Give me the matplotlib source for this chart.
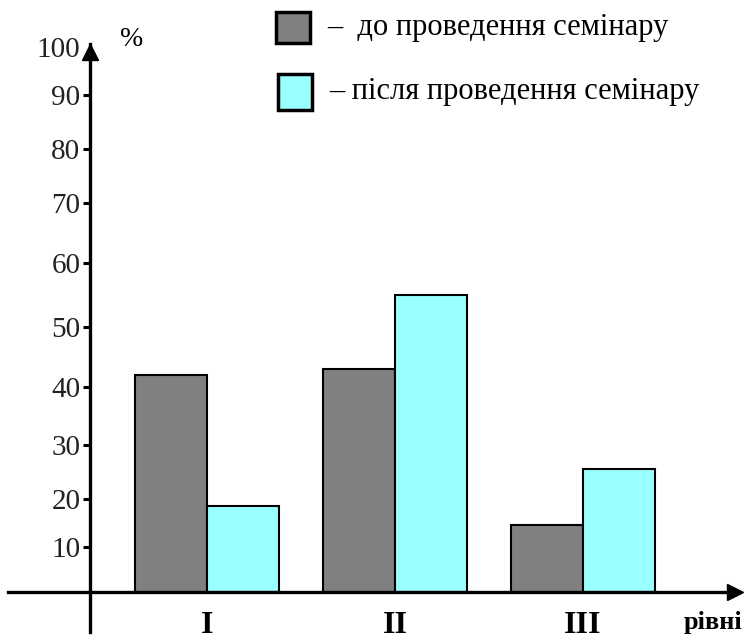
import numpy as np
import matplotlib
matplotlib.use("Agg")
import matplotlib.pyplot as plt
from matplotlib.patches import Rectangle

# дані з діаграми
levels = ["I", "II", "III"]
before = [42, 43, 14.5]   # до проведення семінару
after = [18.5, 55, 25.5]  # після проведення семінару
yticks = [0, 10, 20, 30, 40, 50, 60, 70, 80, 90, 100]

# вісь у на оригіналі намальована нерівномірно - відтворюємо через FuncScale
tick_px = [0, 45, 93, 147, 205, 265, 329, 389, 443, 497, 545]
src = [-100] + yticks + [200]
dst = [-545] + tick_px + [1090]


def fwd(v):
    return np.interp(v, src, dst)


def inv(v):
    return np.interp(v, dst, src)


plt.rcParams['font.family'] = ['Liberation Serif', 'DejaVu Serif']

fig = plt.figure(figsize=(7.47, 6.43), dpi=100)
ax = fig.add_axes([0, 0, 1, 1])
ax.set_yscale('function', functions=(fwd, inv))

x = np.arange(len(levels))
w = 0.383
ax.bar(x - w / 2, before, w, color='#808080', edgecolor='black', lw=1.5)
ax.bar(x + w / 2, after, w, color='#99ffff', edgecolor='black', lw=1.5)

# межі осей так, щоб початок координат був у (90, 592) px
ax.set_xlim((0 - 207) / 188, (747 - 207) / 188)
ax.set_ylim(inv(-51), inv(592))
x0 = (90 - 207) / 188

ax.spines['top'].set_visible(False)
ax.spines['right'].set_visible(False)
ax.spines['left'].set_position(('data', x0))
ax.spines['bottom'].set_position(('data', 0))
ax.spines['left'].set_linewidth(2.4)
ax.spines['bottom'].set_linewidth(2.4)
ax.spines['left'].set_bounds(inv(-40), inv(548))
ax.spines['bottom'].set_bounds((8 - 207) / 188, (735 - 207) / 188)

# стрілки на кінцях осей
ax.plot([x0], [inv(540)], marker='^', ms=11, color='black', clip_on=False)
ax.plot([(735 - 207) / 188], [0], marker='>', ms=11, color='black', clip_on=False)

ax.set_yticks(yticks[1:])
ax.set_yticklabels([str(t) for t in yticks[1:]], fontsize=21, color='#222222')
ax.tick_params(axis='y', direction='out', length=5, width=2.2, pad=2)
ax.yaxis.get_major_ticks()[-1].tick1line.set_visible(False)

ax.set_xticks(x)
ax.set_xticklabels(levels, fontsize=23, fontweight='bold')
ax.tick_params(axis='x', length=0, pad=14)

ax.text(x0 + 0.16, inv(552), "%", fontsize=20, ha='left', va='center')
ax.text((742 - 207) / 188, inv(-30), "рівні", fontsize=19, fontweight='bold',
        ha='right', va='center')

# легенда вручну
fig.patches.append(Rectangle((276 / 747, 1 - 43 / 643), 34 / 747, 31 / 643,
                             transform=fig.transFigure, facecolor='#808080',
                             edgecolor='black', lw=2.5))
fig.patches.append(Rectangle((278 / 747, 1 - 110 / 643), 34 / 747, 36 / 643,
                             transform=fig.transFigure, facecolor='#99ffff',
                             edgecolor='black', lw=2.5))
fig.text(327 / 747, 1 - 28 / 643, "–  до проведення семінару", fontsize=22,
         ha='left', va='center')
fig.text(329 / 747, 1 - 91 / 643, "– після проведення семінару", fontsize=22,
         ha='left', va='center')

plt.savefig("out.png", dpi=100)
